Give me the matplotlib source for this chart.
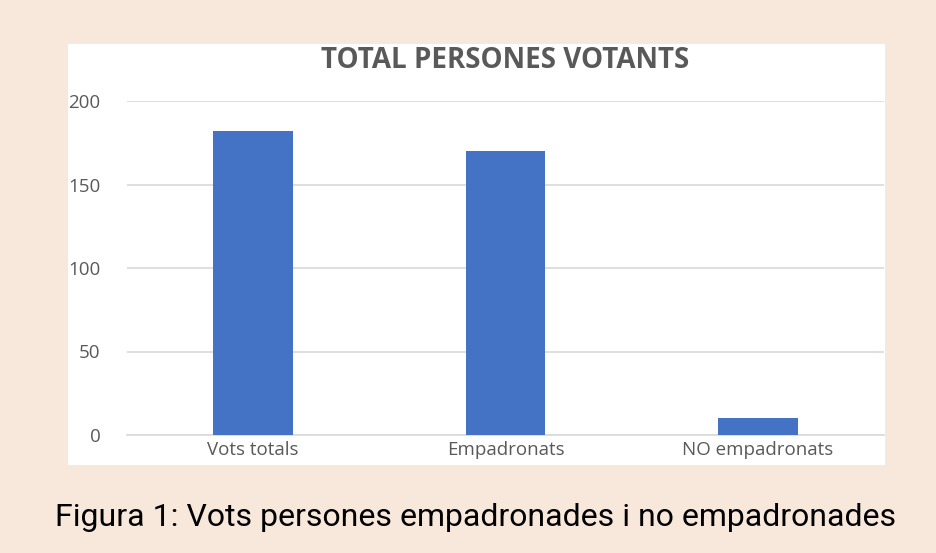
"""Total persones votants - bar chart with caption."""

import matplotlib
matplotlib.use("Agg")
import matplotlib.pyplot as plt
from matplotlib.patches import Rectangle

categories = ["Vots totals", "Empadronats", "NO empadronats"]
votes = [182, 170, 10]
y_ticks = [0, 50, 100, 150, 200]

title = "TOTAL PERSONES VOTANTS"
caption = "Figura 1: Vots persones empadronades i no empadronades"

BG = "#F7E8DB"
BAR = "#4472C4"
GRID = "#D9D9D9"
TEXT = "#595959"

W, H = 936, 553
fig = plt.figure(figsize=(W / 100, H / 100), dpi=100, facecolor=BG)

# white chart panel
fig.patches.append(Rectangle((68 / W, 1 - 465 / H), (885 - 68) / W, (465 - 44) / H,
                             transform=fig.transFigure, facecolor="white",
                             edgecolor="none", zorder=-10))

ax = fig.add_axes([127 / W, 1 - 435 / H, (884 - 127) / W, (435 - 101) / H])
ax.set_facecolor("white")
x = range(len(categories))
ax.bar(x, votes, width=0.315, color=BAR, zorder=3)

ax.set_xlim(-0.5, len(categories) - 0.5)
ax.set_ylim(0, 200)
ax.set_yticks(y_ticks)
ax.set_xticks(list(x))
ax.set_xticklabels(categories)
ax.grid(axis="y", color=GRID, linewidth=1.2, zorder=0)
for side in ["top", "right", "left"]:
    ax.spines[side].set_visible(False)
ax.spines["bottom"].set_color(GRID)
ax.spines["bottom"].set_linewidth(1.2)
ax.tick_params(length=0, labelcolor=TEXT, labelsize=13.5)
ax.tick_params(axis="y", pad=19)
ax.tick_params(axis="x", pad=4)
for lbl in ax.get_xticklabels() + ax.get_yticklabels():
    lbl.set_family("Open Sans")

fig.text(505 / W, 1 - 60 / H, title, ha="center", va="center",
         fontsize=20, fontweight="bold", color=TEXT, family="Open Sans")
fig.text(476 / W, 1 - 518 / H, caption, ha="center", va="center",
         fontsize=23, color="black", family="Roboto")

fig.savefig("out.png", dpi=100, facecolor=BG)
